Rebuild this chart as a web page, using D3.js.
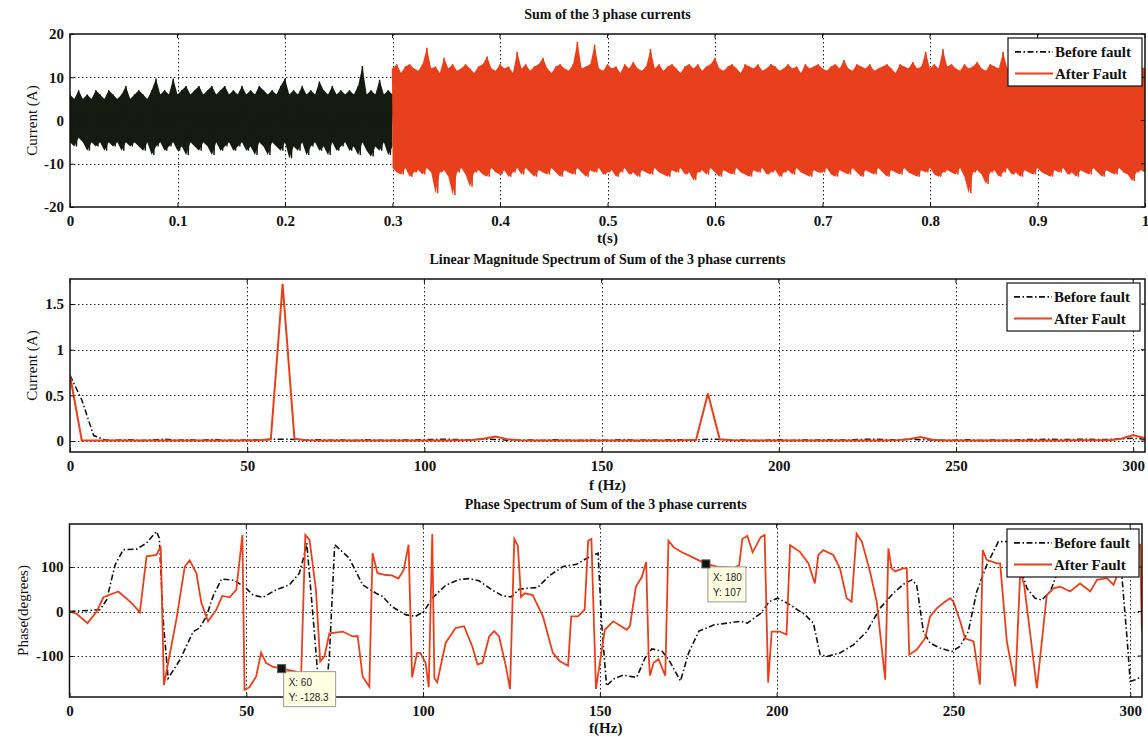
<!DOCTYPE html>
<html><head><meta charset="utf-8">
<script src="https://cdn.jsdelivr.net/npm/d3@7"></script>
<style>body{margin:0;background:#fff}svg{display:block}</style>
</head><body>
<svg id="chart" width="1148" height="737"></svg>
<script>
// ---------------- DATA ----------------
const timeTicks = [0,0.1,0.2,0.3,0.4,0.5,0.6,0.7,0.8,0.9,1];
const timeTickLabels = ["0","0.1","0.2","0.3","0.4","0.5","0.6","0.7","0.8","0.9","1"];
const currentTicks = [-20,-10,0,10,20];
const freqTicks = [0,50,100,150,200,250,300];
const magTicks = [0,0.5,1,1.5];
const magTickLabels = ["0","0.5","1","1.5"];
const phaseTicks = [-100,0,100];
const seriesNames = ["Before fault","After Fault"];

// time signal envelopes (A), sampled every 4 ms
const beforeStart = 0, beforeStep = 0.004;
const beforeFaultHi = [6,5,7,5,6,5,7,6,5,7, 6,5,6,8,5,6,7,6,5,7, 9.7,6,7,6,9.7,6,7,8,6,7,
  8,6,7,8,6,7,8,6,7,6, 8,6,7,6,8,7,6,7,6,8, 9.7,6,7,6,8,6,7,6,9,7, 6,8,6,7,6,7,6,8,12.6,6, 7,6,9.4,6,7,6];
const beforeFaultLo = [-5,-6,-4,-5,-7,-5,-6,-5,-7,-5, -6,-5,-7,-5,-6,-5,-6,-7,-5,-8, -6,-5,-7,-6,-5,-7,-6,-8,-5,-6,
  -7,-5,-6,-8,-5,-7,-6,-5,-7,-6, -5,-7,-6,-8,-5,-6,-8,-5,-6,-7, -5,-8.7,-6,-7,-5,-8,-6,-5,-7,-6, -8,-5,-7,-6,-5,-7,-6,-8,-5,-7, -8.3,-6,-7,-5,-8,-6];
const afterStart = 0.3, afterStep = 0.004;
const afterFaultHi = [12,13,11,12.5,13,12,11.5,13,16.8,12, 12.5,11,14.5,12,13,11.5,12,13,12,11,
  12.5,13,14.8,12,11.5,13,12,12.5,11,15.9, 12,13,11.5,12.5,13,14.5,12,11,12.5,13,
  12,11.5,13,18.2,12,12.5,13,17.5,12,11.5, 13,12,12.5,11,13,12,13.5,12,11.5,12.5,
  16.5,12,13,11.5,12.5,13,12,11,12.5,13, 12,13,11.5,12.5,13,14.5,12,11.5,12.5,13,
  12,11,13,12.5,12,13,11.5,12,13,12.5, 11.5,12,13,12,12.5,11,13,12,12.5,13,
  12,11.5,12.5,13,12,14,12,11.5,13,12.5, 12,13,11.5,12,12.5,13,12,11,13,12.5,
  12,13.5,12,12.5,15.9,12,13,12,16.5,12.5, 13,12,11.5,13,12,12.5,13.5,12,11.5,13,
  12.5,12,15.9,12,13,12.5,11.5,13,12,12.5, 14.5,12,11.5,13,12,12.5,13,12,11.5,12.5,
  13,12,12.5,11.5,13,14,12,12.5,11.5,13, 12,12.5,13,12,12.5,12];
const afterFaultLo = [-11,-12,-12.5,-11,-13,-12,-11.5,-12.5,-11,-12, -16.8,-12,-11.5,-13,-17.2,-12,-11,-12.5,-15.3,-12,
  -11.5,-12.5,-13,-11,-12,-12.5,-11.5,-13,-12,-11, -12.5,-11,-12,-13,-11.5,-12,-12.5,-11,-12,-13,
  -11.5,-12,-12.5,-11,-12,-13,-11.5,-12,-11,-12.5, -12,-11.5,-13,-12,-11,-12.5,-12,-13,-11.5,-12,
  -12.5,-11,-12,-12.5,-13,-11.5,-12,-11,-12.5,-12, -13.8,-12,-11.5,-12.5,-11,-12,-13,-11.5,-12,-12.5,
  -11,-12,-12.5,-13,-11.5,-12,-11,-12.5,-12,-11.5, -13,-12,-11.5,-12.5,-11,-12,-12.5,-13,-11.5,-12,
  -12,-11,-12.5,-13,-11.5,-12,-12.5,-11,-12,-13, -11.5,-12,-12.5,-11,-12,-13,-11.5,-12,-12.5,-11,
  -12,-12.5,-13,-11.5,-12,-11,-12.5,-13,-12,-11.5, -12,-12.5,-11,-13,-16.8,-12,-11.5,-12.5,-14.7,-12,
  -11.5,-13,-12,-11,-12.5,-12,-13,-11.5,-12,-12.5, -11,-12,-12.5,-13,-11.5,-12,-11,-12.5,-12,-13,
  -11.5,-12,-12.5,-11,-12,-13,-11.5,-12,-12.5,-11, -12,-12.5,-14,-12,-11.5,-12];

// linear magnitude spectrum (A), bins every 10/3 Hz
const freqStep = 10/3;
const magBefore = [0.72,0.45,0.06,0.012,0.008,0.015,0.006,0.012,0.02,0.008,
  0.015,0.006,0.018,0.01,0.007,0.012,0.01,0.02,0.02,0.018, 0.01,0.015,0.008,0.012,0.006,0.015,0.01,0.007,0.012,0.009,
  0.016,0.018,0.02,0.015,0.012,0.02,0.018,0.01,0.008,0.012, 0.006,0.015,0.009,0.007,0.012,0.008,0.01,0.016,0.006,0.012,
  0.008,0.015,0.01,0.012,0.02,0.018,0.008,0.012,0.006,0.01, 0.015,0.007,0.012,0.008,0.016,0.01,0.012,0.018,0.02,0.015,
  0.01,0.02,0.015,0.012,0.008,0.01,0.015,0.006,0.012,0.008, 0.012,0.016,0.018,0.02,0.015,0.018,0.02,0.016,0.018,0.025,0.03,0.02];
const magAfter = [0.72,0.005,0.006,0.005,0.006,0.005,0.006,0.005,0.006,0.005,
  0.005,0.006,0.005,0.006,0.005,0.006,0.008,0.02,1.72,0.025, 0.01,0.006,0.005,0.006,0.005,0.006,0.005,0.006,0.005,0.006,
  0.005,0.006,0.005,0.008,0.012,0.025,0.05,0.02,0.008,0.005, 0.006,0.005,0.006,0.005,0.006,0.005,0.006,0.005,0.006,0.005,
  0.006,0.005,0.008,0.015,0.52,0.02,0.008,0.005,0.006,0.005, 0.006,0.005,0.006,0.005,0.006,0.005,0.006,0.005,0.006,0.005,
  0.01,0.02,0.045,0.015,0.006,0.005,0.006,0.005,0.006,0.005, 0.006,0.005,0.006,0.005,0.006,0.008,0.01,0.008,0.01,0.025,0.065,0.03];

// phase spectrum (degrees)
const phaseBeforeF = [0,8.6,10.5,12.9,15.2,19,21.8,24.6,25.4,26.5,27.9,31.2,35,36.8,38.7,40.6,43,46.7,50,51.9,54.7,58.5,62.2,65,66.4,67.1,69.2,70.5,72.5,73.5,75,79.1,82.9,86.7,88.5,91.2,95,97.8,100.2,102.6,106.4,110.2,113,115.8,119.6,122.5,124.9,127.2,129.1,132.4,135.8,139.6,143.4,146.2,149.5,150.5,151.9,153.8,156.6,160.4,162.8,164.7,167.6,169.4,172.8,175.1,178,182.3,186,189.8,191.7,195.5,197.9,200.3,203.8,208,210.4,212.3,214.2,217.9,221.7,225.5,229.2,233,235.8,238.2,239.6,241.5,243.4,246.2,249.5,251.9,254.2,256.6,259.4,262.7,265.6,268,270.8,273.1,275,277.4,280,285,292,297,299.1,300,301.4,303.3];
const phaseBeforeV = [0,4,26,105,139,140,154,180,165,-20,-150,-109,-45,-37,-11,34,73,70,52,37,32,49,60,86,127,154,-41,-170,-185,-100,150,120,60,41,34,11,-7,-11,0,30,59,72,74,69,48,35,33,50,52,54,81,101,106,119,131,-26,-167,-152,-143,-148,-104,-84,-89,-107,-156,-93,-44,-30,-26,-22,-26,-4,22,30,15,-7,-26,-97,-101,-93,-75,-45,7,41,61,71,60,-45,-71,-82,-90,-78,-45,45,104,157,157,120,52,30,26,45,100,140,150,140,-60,-157,-153,-146];
const phaseAfterF = [0,2,5.1,7.7,9.6,13.8,17.6,19.9,21.8,24.6,25.8,26.7,30.3,32.6,34,35.9,37.3,39.2,41.5,43.2,45.3,47.2,48.9,49.5,50.9,52.8,54.2,55.6,57.5,60,64.1,65.5,66.7,67.9,69.7,70.9,72.1,73.5,77.3,80.1,81.5,82.9,84.8,85.7,87.1,89.5,91.2,93,94.5,95.9,96.9,98.3,99.2,100.7,101.6,102.6,103.2,104,106.4,109.2,111.6,113.9,115.4,116.8,118.7,120.1,121.5,123.4,124.6,125.8,126.8,127.7,128.7,131,133.9,136.7,138.6,141,141.9,143.8,145.7,146.7,147.6,148.9,151.4,153.8,157.6,158.5,160.2,161.9,163.1,163.8,164.2,165.2,166.6,168.5,169.4,170.9,173.2,175.1,178,180,183.7,188,189.4,190.3,191.7,193.2,195.5,196.6,197.6,198.6,200.9,202.8,203.8,206.6,209,210.8,211.8,213.2,216,217.9,219.8,221.2,222.6,224.1,226.4,228.3,230.7,231.6,232.5,233.5,235.8,236.8,237.5,239.6,242,243.4,245.3,247.6,249.1,250,251.9,253.3,255.7,257.5,258.3,259.4,262.3,263.2,265.1,267.5,268.9,270,273.6,276.4,278.3,280.2,283,285.8,288.7,290.6,293.4,295.3,296.7,299,301,302.8,303.3];
const phaseAfterV = [0,-5,-26,0,32,45,19,-2,124,127,146,-165,-15,101,115,86,19,-22,4,35,32,49,172,-176,-170,-146,-92,-116,-124,-128.3,-135,-146,172,161,49,-112,-101,-49,-45,-56,-55,-146,-169,131,86,82,81,74,93,150,-148,-93,-93,-115,-170,174,-150,-159,-70,-37,-33,-78,-119,-115,-56,-44,-56,-122,-174,163,148,33,41,37,-11,-93,-111,-122,-11,-11,4,159,163,-174,-41,-22,-41,-33,56,78,111,-100,-144,-115,-107,-144,159,144,133,126,115,107,100,98,104,163,170,133,167,172,-160,-45,-45,-52,149,134,108,63,127,138,127,97,30,22,175,157,90,22,-153,142,97,90,97,97,-97,-86,-60,-11,7,22,30,22,-22,-60,-67,-164,138,116,108,108,-67,-168,90,60,-172,37,52,56,45,63,45,71,75,60,90,108,149,150,-45];

// data tips
const tipX = [60, 180];
const tipY = [-128.3, 107];

// ---------------- DRAW ----------------
const svg = d3.select("#chart");
svg.append("rect").attr("width",1148).attr("height",737).attr("fill","#fff");
const RED = "#e8401c", BLK = "#111";
const SERIF = "'Liberation Serif','Times New Roman',serif";
const dashDot = "6,2.5,1.5,2.5";

function panel(id, box, xDom, yDom, xt, xtl, yt, ytl, title, xlabel, ylabel, titleY, xlabelY, ylabelX) {
  const x = d3.scaleLinear().domain(xDom).range([box.l, box.r]);
  const y = d3.scaleLinear().domain(yDom).range([box.b, box.t]);
  const g = svg.append("g");
  g.append("clipPath").attr("id", id).append("rect")
    .attr("x", box.l).attr("y", box.t).attr("width", box.r - box.l).attr("height", box.b - box.t);
  const grid = g.append("g").attr("stroke", "#222").attr("stroke-width", 1).attr("stroke-dasharray", "1.5,2.5");
  xt.forEach(v => { if (x(v) > box.l + 1 && x(v) < box.r - 1)
    grid.append("line").attr("x1", Math.round(x(v))+0.5).attr("x2", Math.round(x(v))+0.5).attr("y1", box.t).attr("y2", box.b); });
  yt.forEach(v => { if (y(v) > box.t + 1 && y(v) < box.b - 1)
    grid.append("line").attr("y1", Math.round(y(v))+0.5).attr("y2", Math.round(y(v))+0.5).attr("x1", box.l).attr("x2", box.r); });
  const plot = g.append("g").attr("clip-path", `url(#${id})`);
  const xAxis = d3.axisBottom(x).tickValues(xt).tickFormat((d,i)=>xtl[i]).tickSizeInner(-4).tickSizeOuter(0).tickPadding(8);
  const yAxis = d3.axisLeft(y).tickValues(yt).tickFormat((d,i)=>ytl[i]).tickSizeInner(-4).tickSizeOuter(0).tickPadding(6);
  const ax = g.append("g").attr("transform", `translate(0,${box.b})`).call(xAxis);
  const ay = g.append("g").attr("transform", `translate(${box.l},0)`).call(yAxis);
  [ax, ay].forEach(a => {
    a.select(".domain").remove();
    a.selectAll("line").attr("stroke", "#111");
    a.selectAll("text").attr("font-family", SERIF).attr("font-size", 15).attr("font-weight", "bold").attr("fill", "#111");
  });
  xt.forEach(v => g.append("line").attr("x1", x(v)).attr("x2", x(v)).attr("y1", box.t).attr("y2", box.t+4).attr("stroke","#111"));
  yt.forEach(v => g.append("line").attr("y1", y(v)).attr("y2", y(v)).attr("x1", box.r).attr("x2", box.r-4).attr("stroke","#111"));
  g.append("rect").attr("x", box.l).attr("y", box.t).attr("width", box.r-box.l).attr("height", box.b-box.t)
    .attr("fill","none").attr("stroke","#111").attr("stroke-width",1.5);
  g.append("text").attr("x", (box.l+box.r)/2).attr("y", titleY).attr("text-anchor","middle")
    .attr("font-family", SERIF).attr("font-size", 14).attr("font-weight","bold").attr("fill","#111").text(title);
  g.append("text").attr("x", (box.l+box.r)/2).attr("y", xlabelY).attr("text-anchor","middle")
    .attr("font-family", SERIF).attr("font-size", 15).attr("font-weight","bold").attr("fill","#111").text(xlabel);
  g.append("text").attr("transform", `translate(${ylabelX},${(box.t+box.b)/2}) rotate(-90)`).attr("text-anchor","middle")
    .attr("font-family", SERIF).attr("font-size", 15).attr("fill","#111").text(ylabel);
  return {x, y, g, plot};
}

function legend(g, bx, by, bw, bh) {
  const lg = g.append("g");
  lg.append("rect").attr("x", bx).attr("y", by).attr("width", bw).attr("height", bh)
    .attr("fill","#fff").attr("stroke","#111").attr("stroke-width",1.2);
  const rows = [by + bh*0.29, by + bh*0.74];
  lg.append("line").attr("x1", bx+7).attr("x2", bx+45).attr("y1", rows[0]).attr("y2", rows[0])
    .attr("stroke", BLK).attr("stroke-width", 1.6).attr("stroke-dasharray", dashDot);
  lg.append("line").attr("x1", bx+7).attr("x2", bx+45).attr("y1", rows[1]).attr("y2", rows[1])
    .attr("stroke", RED).attr("stroke-width", 2);
  seriesNames.forEach((n,i) => lg.append("text").attr("x", bx+47).attr("y", rows[i]+5)
    .attr("font-family", SERIF).attr("font-size", 15).attr("font-weight","bold").attr("fill","#111").text(n));
}

// Panel 1: time signal
const p1 = panel("c1", {l:70, r:1145, t:34, b:207}, [0,1], [-20,20], timeTicks, timeTickLabels,
  currentTicks, currentTicks.map(String), "Sum of the 3 phase currents", "t(s)", "Current (A)", 19, 243, 37);
function envelopePts(start, step, hi, lo) {
  const pts = [];
  hi.forEach((h,i) => { pts.push([start + i*step, h]); pts.push([start + (i+0.5)*step, lo[i]]); });
  return pts;
}
const line1 = d3.line().x(d => p1.x(d[0])).y(d => p1.y(d[1]));
function band(start, step, hi, lo, color, sw) {
  const area = d3.area().x((d,i) => p1.x(start + i*step)).y0((d,i) => p1.y(lo[i])).y1(d => p1.y(d));
  p1.plot.append("path").attr("d", area(hi)).attr("fill", color);
  p1.plot.append("path").attr("d", line1(envelopePts(start, step, hi, lo)))
    .attr("fill","none").attr("stroke", color).attr("stroke-width", sw).attr("stroke-linejoin","bevel");
}
band(beforeStart, beforeStep, beforeFaultHi, beforeFaultLo, "#161b12", 1.4);
band(afterStart, afterStep, afterFaultHi, afterFaultLo, RED, 1.6);
legend(p1.g, 1008, 38, 134, 48);

// Panel 2: magnitude
const p2 = panel("c2", {l:70, r:1145, t:279, b:452}, [0,303.33], [-0.12,1.774], freqTicks, freqTicks.map(String),
  magTicks, magTickLabels, "Linear Magnitude Spectrum of Sum of the 3 phase currents", "f (Hz)", "Current (A)", 264, 490, 37);
const line2 = d3.line().x((d,i) => p2.x(i*freqStep)).y(d => p2.y(d));
p2.plot.append("path").attr("d", line2(magBefore)).attr("fill","none").attr("stroke", BLK)
  .attr("stroke-width", 1.5).attr("stroke-dasharray", dashDot);
p2.plot.append("path").attr("d", line2(magAfter)).attr("fill","none").attr("stroke", RED).attr("stroke-width", 2);
legend(p2.g, 1007, 283, 133, 48);

// Panel 3: phase
const p3 = panel("c3", {l:69.5, r:1142, t:524, b:697}, [0,303.33], [-192,196.6], freqTicks, freqTicks.map(String),
  phaseTicks, phaseTicks.map(String), "Phase Spectrum of Sum of the 3 phase currents", "f(Hz)", "Phase(degrees)", 509, 733, 28);
const line3 = d3.line().x(d => p3.x(d[0])).y(d => p3.y(d[1]));
p3.plot.append("path").attr("d", line3(phaseBeforeF.map((f,i)=>[f, phaseBeforeV[i]]))).attr("fill","none")
  .attr("stroke", BLK).attr("stroke-width", 1.6).attr("stroke-dasharray", dashDot);
p3.plot.append("path").attr("d", line3(phaseAfterF.map((f,i)=>[f, phaseAfterV[i]]))).attr("fill","none")
  .attr("stroke", RED).attr("stroke-width", 1.8);
tipX.forEach((fx,i) => {
  const px = p3.x(fx), py = p3.y(tipY[i]);
  const tg = p3.g.append("g");
  tg.append("rect").attr("x", px+2).attr("y", py+3).attr("width", i===0?52:38).attr("height", 35)
    .attr("fill","#ffffe1").attr("stroke","#999").attr("stroke-width",1);
  tg.append("text").attr("x", px+7).attr("y", py+17).attr("font-family","'Liberation Sans',Arial,sans-serif")
    .attr("font-size", 10).attr("fill","#222").text("X: " + fx);
  tg.append("text").attr("x", px+7).attr("y", py+32).attr("font-family","'Liberation Sans',Arial,sans-serif")
    .attr("font-size", 10).attr("fill","#222").text("Y: " + tipY[i]);
  tg.append("rect").attr("x", px-4).attr("y", py-4).attr("width", 8).attr("height", 8)
    .attr("fill","#111").attr("stroke","#555");
});
legend(p3.g, 1007, 529, 132, 48);
</script>
</body></html>
